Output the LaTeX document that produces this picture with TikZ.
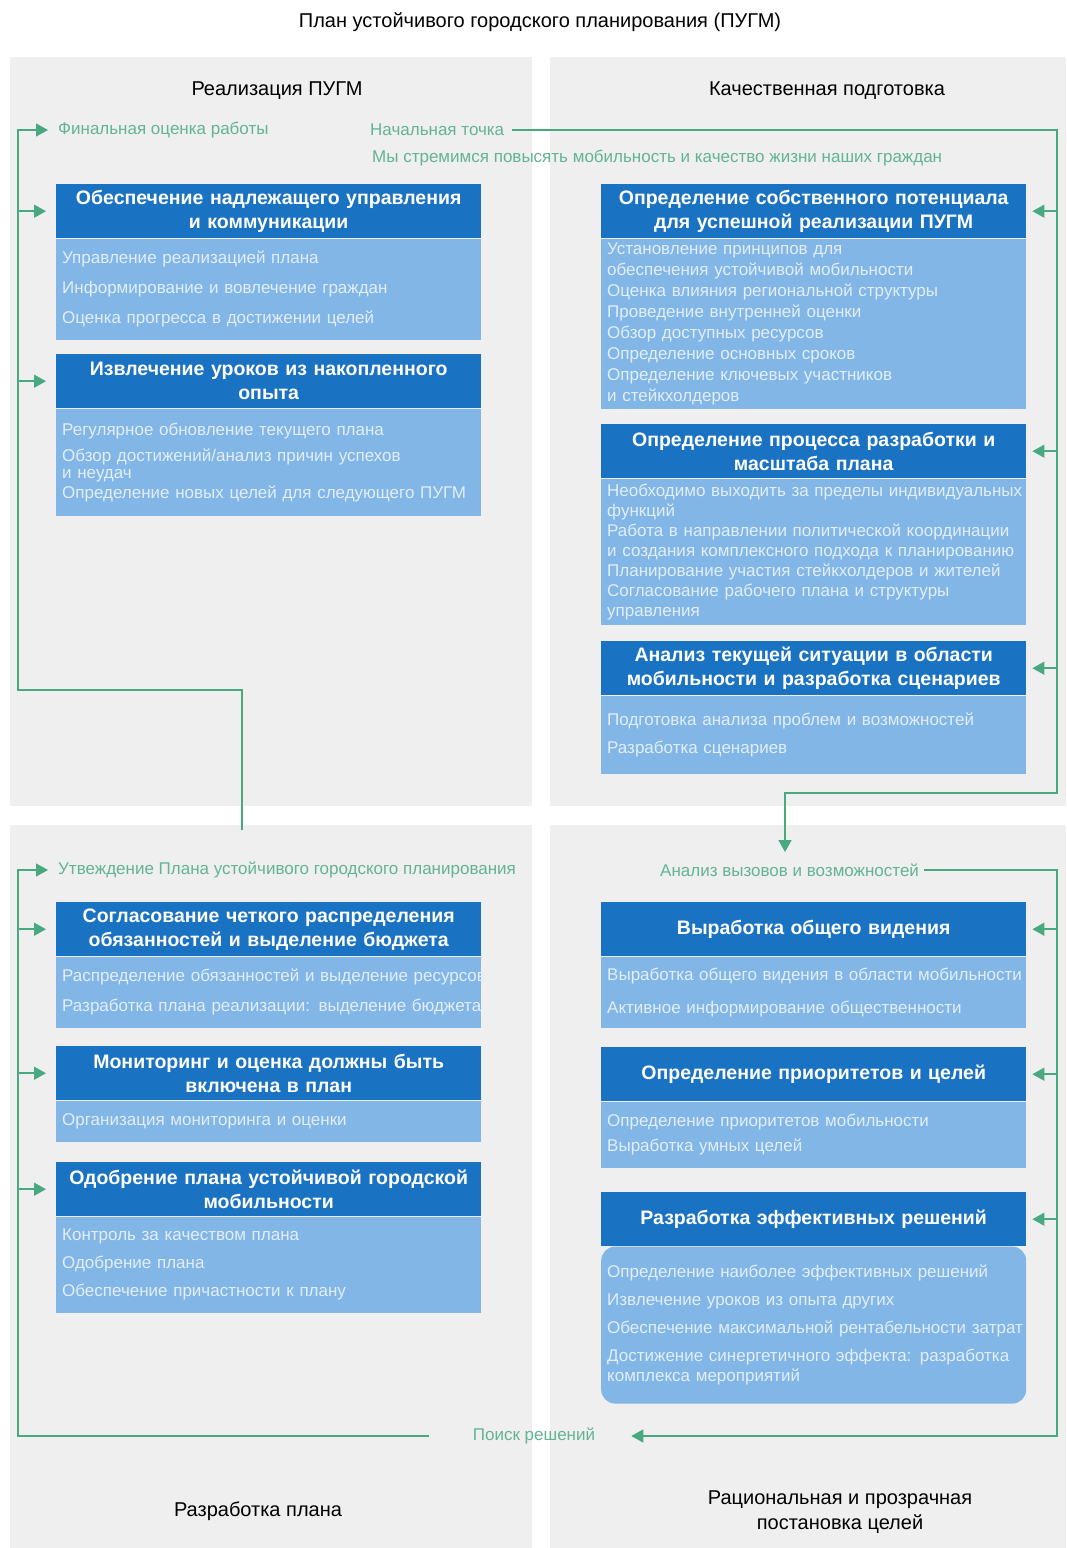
\documentclass[tikz,border=0pt]{standalone}
\usepackage{fontspec}
\setmainfont{Liberation Sans}
\usetikzlibrary{positioning,arrows.meta}

\definecolor{panelgray}{RGB}{239,239,239}
\definecolor{headblue}{RGB}{26,114,194}
\definecolor{bodyblue}{RGB}{130,182,230}
\definecolor{itemwhite}{RGB}{226,238,250}
\definecolor{railgreen}{RGB}{72,168,128}
\definecolor{labelgreen}{RGB}{98,180,148}

\tikzset{
  panel/.style={fill=panelgray},
  cardhead/.style={fill=headblue, text=white, font=\fontsize{19.5}{24}\selectfont\bfseries,
    text width=417pt, align=center, minimum height=54pt, inner xsep=4pt, inner ysep=0pt,
    anchor=north west},
  cardbody/.style={fill=bodyblue, text=itemwhite, font=\fontsize{17}{#1}\selectfont,
    text width=413pt, align=left, inner xsep=6pt, inner ysep=0pt},
  quarter/.style={font=\fontsize{20}{25}\selectfont, align=center, inner sep=0pt},
  greenlabel/.style={text=labelgreen, font=\fontsize{17}{20}\selectfont, inner sep=0pt},
  railline/.style={draw=railgreen, line width=1.5pt},
  railarrow/.style={railline, -{Triangle[length=12pt,width=13pt]}},
}

\begin{document}
\begin{tikzpicture}[x=1pt,y=-1pt]
    \useasboundingbox (0,0) rectangle (1066,1548);

    \def\colL{56}% left column of cards
    \def\colR{601}% right column of cards

    \newcommand{\planbox}[7]
    {
      \node[cardhead] (h#1) at (#2,#3) {#4};
      \node[cardbody=#6, minimum height=#5pt, below=0pt of h#1] (b#1) {#7};
    }

    % Quarters
    \fill[panel] (10,57) rectangle (532,806);
    \fill[panel] (550,57) rectangle (1066,806);
    \fill[panel] (10,825) rectangle (532,1548);
    \fill[panel] (550,825) rectangle (1066,1548);

    \node[quarter] (title) at (540,22) {План устойчивого городского планирования (ПУГМ)};
    \node[quarter] (qImpl) at (277,91) {Реализация ПУГМ};
    \node[quarter] (qPrep) at (827,91) {Качественная подготовка};
    \node[quarter] (qPlan) at (258,1511) {Разработка плана};
    \node[quarter] (qGoal) at (840,1512) {Рациональная и прозрачная\\постановка целей};

    % Milestones
    \node[greenlabel, anchor=west] (finalEval) at (58,130) {Финальная оценка работы};
    \node[greenlabel, anchor=west] (startPt) at (370,130) {Начальная точка};
    \node[greenlabel, anchor=west] (aim) at (372,158) {Мы стремимся повысять мобильность и качество жизни наших граждан};
    \node[greenlabel, anchor=west] (approval) at (58,870) {Утвеждение Плана устойчивого городского планирования};
    \node[greenlabel, anchor=west] (challenges) at (660,870) {Анализ вызовов и возможностей};
    \node[greenlabel] (search) at (534,1436) {Поиск решений};

    % Realisation
    \planbox{Gov}{\colL}{184}{Обеспечение надлежащего управления\\и коммуникации}{101}{30}
      {Управление реализацией плана\\Информирование и вовлечение граждан\\Оценка прогресса в достижении целей}
    \planbox{Les}{\colL}{354}{Извлечение уроков из накопленного\\опыта}{107}{22}
      {Регулярное обновление текущего плана\\[4pt]Обзор достижений/анализ причин успехов\\[-5pt]и неудач\\[-2pt]Определение новых целей для следующего ПУГМ}

    % Preparation
    \planbox{Pot}{\colR}{184}{Определение собственного потенциала\\для успешной реализации ПУГМ}{170}{21}
      {Установление принципов для\\обеспечения устойчивой мобильности\\Оценка влияния региональной структуры\\Проведение внутренней оценки\\Обзор доступных ресурсов\\Определение основных сроков\\Определение ключевых участников\\и стейкхолдеров}
    \planbox{Proc}{\colR}{424}{Определение процесса разработки и\\масштаба плана}{146}{20}
      {\mbox{Необходимо выходить за пределы индивидуальных}\\функций\\Работа в направлении политической координации\\\mbox{и создания комплексного подхода к планированию}\\Планирование участия стейкхолдеров и жителей\\Согласование рабочего плана и структуры\\управления}
    \planbox{Ana}{\colR}{641}{Анализ текущей ситуации в области\\мобильности и разработка сценариев}{78}{28}
      {Подготовка анализа проблем и возможностей\\Разработка сценариев}

    % Plan development
    \planbox{Bud}{\colL}{902}{Согласование четкого распределения\\обязанностей и выделение бюджета}{71}{30}
      {\mbox{Распределение обязанностей и выделение ресурсов}\\\mbox{Разработка плана реализации: выделение бюджета}}
    \planbox{Mon}{\colL}{1046}{Мониторинг и оценка должны быть\\включена в план}{41}{28}
      {Организация мониторинга и оценки}
    \planbox{App}{\colL}{1162}{Одобрение плана устойчивой городской\\мобильности}{96}{28}
      {Контроль за качеством плана\\Одобрение плана\\Обеспечение причастности к плану}

    % Goal setting
    \planbox{Vis}{\colR}{902}{Выработка общего видения}{71}{33}
      {\mbox{Выработка общего видения в области мобильности}\\Активное информирование общественности}
    \planbox{Pri}{\colR}{1047}{Определение приоритетов и целей}{66}{25}
      {Определение приоритетов мобильности\\Выработка умных целей}
    \node[cardhead] (hSol) at (\colR,1192) {Разработка эффективных решений};
    \node[cardbody=28, minimum height=157pt, below=0pt of hSol, rounded corners=14pt] (bSol)
      {Определение наиболее эффективных решений\\Извлечение уроков из опыта других\\\mbox{Обеспечение максимальной рентабельности затрат}\\Достижение синергетичного эффекта: разработка\\[-8pt]комплекса мероприятий};

    % Rails
    \coordinate (planDone) at (242,830);
    \coordinate (railTL) at (18,690);
    \coordinate (railTR) at (1057,793);
    \coordinate (dropEnd) at (785,852);
    \coordinate (railBR) at (1057,1436);
    \coordinate (railBL) at (18,1436);

    \draw[railarrow, shorten >=10pt] (planDone) |- (railTL) |- (finalEval.west);
    \draw[railarrow, shorten <=8pt] (startPt.east) -| (railTR) -| (dropEnd);
    \draw[railarrow, shorten <=5pt, shorten >=36pt] (challenges.east) -| (railBR) -- (search.east);
    \draw[railarrow, shorten <=44pt, shorten >=10pt] (search.west) -- (railBL) |- (approval.west);

    \foreach \b in {Gov,Les}
      \draw[railarrow, shorten >=10pt] (railTL |- h\b.west) -- (h\b.west);
    \foreach \b in {Pot,Proc,Ana}
      \draw[railarrow, shorten >=6pt] (railTR |- h\b.east) -- (h\b.east);
    \foreach \b in {Bud,Mon,App}
      \draw[railarrow, shorten >=10pt] (railBL |- h\b.west) -- (h\b.west);
    \foreach \b in {Vis,Pri,Sol}
      \draw[railarrow, shorten >=6pt] (railBR |- h\b.east) -- (h\b.east);
\end{tikzpicture}
\end{document}
